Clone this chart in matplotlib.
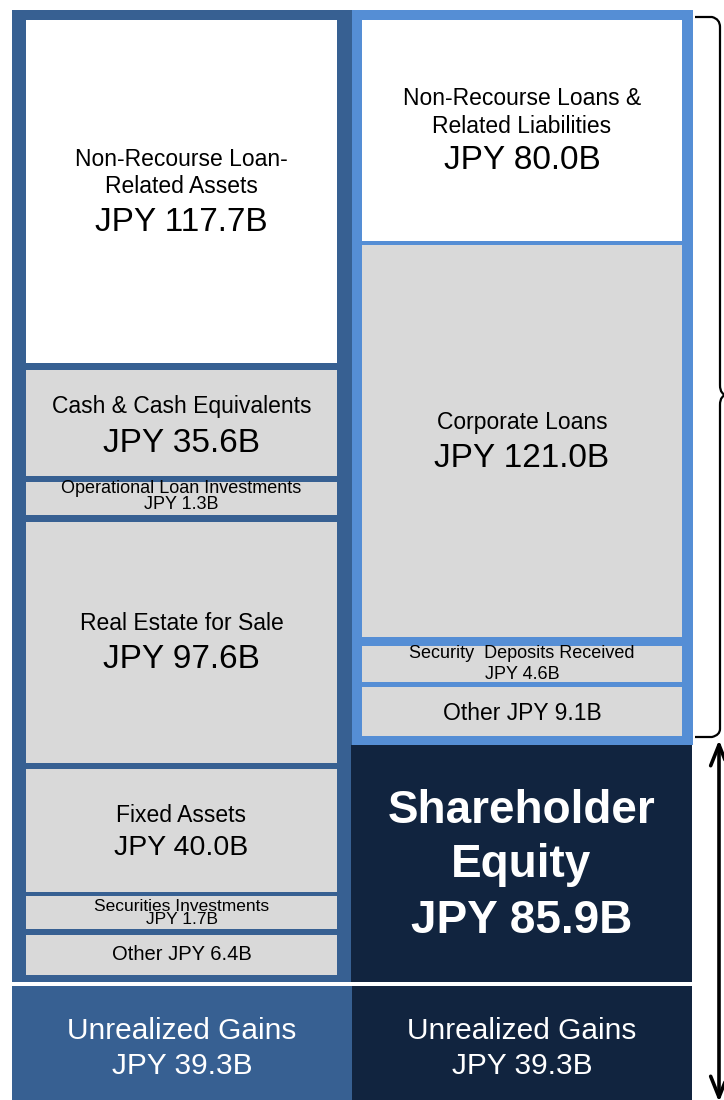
import matplotlib
matplotlib.use("Agg")
import matplotlib.pyplot as plt
from matplotlib.patches import Rectangle, PathPatch
from matplotlib.path import Path

plt.rcParams['font.family'] = ['Liberation Sans', 'DejaVu Sans']

# --- data ---
asset_names = ["Non-Recourse Loan-\nRelated Assets", "Cash & Cash Equivalents",
               "Operational Loan Investments", "Real Estate for Sale", "Fixed Assets",
               "Securities Investments", "Other"]
asset_values = [117.7, 35.6, 1.3, 97.6, 40.0, 1.7, 6.4]

liab_names = ["Non-Recourse Loans &\nRelated Liabilities", "Corporate Loans",
              "Security  Deposits Received", "Other"]
liab_values = [80.0, 121.0, 4.6, 9.1]

equity_name = "Shareholder\nEquity"
equity_value = 85.9
unrealized_name = "Unrealized Gains"
unrealized_value = 39.3

# --- layout (pixel coords, y down) ---
steel = '#376092'
light = '#558ED5'
navy = '#11243F'
grey = '#D9D9D9'

# inner boxes: (top, bottom, fill)
asset_boxes = [(20, 363, 'white'), (370, 476, grey), (482, 515, grey), (522, 763, grey),
               (769, 892, grey), (896, 929, grey), (935, 975, grey)]
# text: (name_y, name_size, value_y, value_size); value_y None -> one line
asset_text = [((158, 185), 16.5, 220, 24), ((405,), 16.5, 441, 24), ((487,), 13, 503, 13),
              ((622,), 16.5, 657, 24), ((814,), 16.5, 846, 20.5), ((905,), 12.5, 918, 12.5),
              ((953,), 14.5, None, None)]

liab_boxes = [(20, 241, 'white'), (245, 637, grey), (646, 682, grey), (687, 736, grey)]
liab_text = [((97, 125), 16.5, 158, 24), ((421,), 16.5, 456, 24), ((652,), 13, 673, 13),
             ((712,), 16.5, None, None)]

fig = plt.figure(figsize=(7.24, 11), dpi=100)
ax = fig.add_axes([0, 0, 1, 1])
ax.set_xlim(0, 724)
ax.set_ylim(1100, 0)
ax.axis('off')


def box(x0, y0, x1, y1, color):
    ax.add_patch(Rectangle((x0, y0), x1 - x0, y1 - y0, facecolor=color, edgecolor='none'))


def label(x, y, s, size, **kw):
    # nudge down a bit: va='center' counts the font descent
    ax.text(x, y + 0.1 * size, s, ha='center', va='center', fontsize=size, **kw)


def fmt(v):
    return "JPY %.1fB" % v


# outer frames
box(12, 10, 352, 982, steel)
box(352, 10, 693, 745, light)
box(351, 745, 692, 982, navy)
box(12, 986, 352, 1100, steel)
box(352, 986, 692, 1100, navy)


def column(x0, x1, boxes, texts, names, values):
    cx = (x0 + x1) / 2
    for (t, b, c), (ny, ns, vy, vs), name, val in zip(boxes, texts, names, values):
        box(x0, t, x1, b, c)
        lines = name.split("\n")
        if vy is None:
            label(cx, ny[0], name + " " + fmt(val), ns)
            continue
        for line, y in zip(lines, ny):
            label(cx, y, line, ns)
        label(cx, vy, fmt(val), vs)


column(26, 337, asset_boxes, asset_text, asset_names, asset_values)
column(362, 682, liab_boxes, liab_text, liab_names, liab_values)

# equity
eq_lines = equity_name.split("\n") + [fmt(equity_value)]
for line, y in zip(eq_lines, [808, 862, 918]):
    label(521.5, y, line, 33, fontweight='bold', color='white')

# unrealized gains
for cx in (182, 522):
    label(cx, 1029, unrealized_name, 21.5, color='white')
    label(cx, 1064, fmt(unrealized_value), 21.5, color='white')

# brace for liabilities
verts = [(695, 17), (712, 17), (720, 19), (720, 27),
         (720, 385),
         (720, 392), (723, 395), (727, 395),
         (723, 395), (720, 398), (720, 405),
         (720, 729),
         (720, 735), (712, 737), (695, 737)]
codes = [Path.MOVETO, Path.LINETO, Path.CURVE3, Path.CURVE3,
         Path.LINETO,
         Path.CURVE4, Path.CURVE4, Path.CURVE4,
         Path.CURVE4, Path.CURVE4, Path.CURVE4,
         Path.LINETO,
         Path.CURVE3, Path.CURVE3, Path.LINETO]
ax.add_patch(PathPatch(Path(verts, codes), facecolor='none', edgecolor='black', lw=1.6))

# double arrow for equity
ax.annotate('', xy=(719, 740), xytext=(719, 1102),
            arrowprops=dict(arrowstyle='<->,head_length=1.5,head_width=0.6',
                            color='black', lw=2.6, shrinkA=0, shrinkB=0))

fig.savefig('out.png', dpi=100)
